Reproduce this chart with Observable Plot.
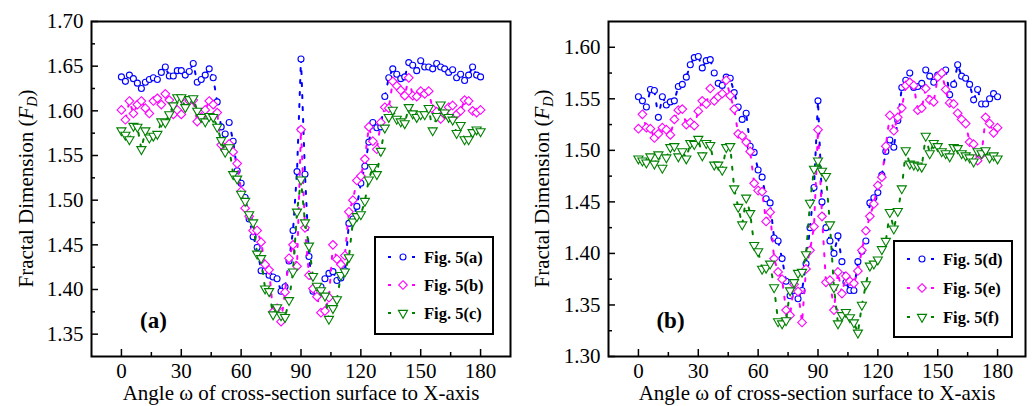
<!DOCTYPE html>
<html>
<head>
<meta charset="utf-8">
<script src="https://cdn.jsdelivr.net/npm/d3@7"></script>
<script src="https://cdn.jsdelivr.net/npm/@observablehq/plot@0.6"></script>
<style>
  html, body { margin: 0; padding: 0; background: #fff; }
  #chart { display: flex; width: 1033px; height: 406px; }
</style>
</head>
<body>
<div id="chart"></div>
<script>
// Cross-section angle ω (degrees)
const angles = [
  0, 2, 4, 6, 8, 10, 12, 14, 16, 18,
  20, 22, 24, 26, 28, 30, 32, 34, 36, 38,
  40, 42, 44, 46, 48, 50, 52, 54, 56, 58,
  60, 62, 64, 66, 68, 70, 72, 74, 76, 78,
  80, 82, 84, 86, 88, 90, 92, 94, 96, 98,
  100, 102, 104, 106, 108, 110, 112, 114, 116, 118,
  120, 122, 124, 126, 128, 130, 132, 134, 136, 138,
  140, 142, 144, 146, 148, 150, 152, 154, 156, 158,
  160, 162, 164, 166, 168, 170, 172, 174, 176, 178,
  180
];

// Panel (a): fractal dimension F_D
const fig5a = [
  1.638, 1.633, 1.640, 1.636, 1.631, 1.625, 1.632, 1.635, 1.637, 1.635,
  1.643, 1.649, 1.639, 1.639, 1.645, 1.645, 1.640, 1.644, 1.653, 1.632,
  1.635, 1.640, 1.647, 1.637, 1.610, 1.582, 1.574, 1.587, 1.566, 1.533,
  1.519, 1.503, 1.479, 1.459, 1.447, 1.421, 1.421, 1.416, 1.414, 1.412,
  1.398, 1.403, 1.432, 1.466, 1.532, 1.658, 1.529, 1.437, 1.398, 1.397,
  1.403, 1.412, 1.418, 1.420, 1.410, 1.413, 1.421, 1.474, 1.479, 1.493,
  1.519, 1.538, 1.565, 1.587, 1.581, 1.582, 1.616, 1.637, 1.647, 1.641,
  1.636, 1.638, 1.654, 1.651, 1.645, 1.656, 1.649, 1.649, 1.647, 1.653,
  1.649, 1.647, 1.643, 1.646, 1.637, 1.641, 1.634, 1.640, 1.649, 1.640,
  1.638
];
const fig5b = [
  1.601, 1.590, 1.611, 1.597, 1.607, 1.611, 1.603, 1.597, 1.611, 1.614,
  1.607, 1.619, 1.612, 1.596, 1.601, 1.596, 1.609, 1.611, 1.612, 1.588,
  1.593, 1.601, 1.611, 1.607, 1.598, 1.562, 1.556, 1.563, 1.554, 1.541,
  1.510, 1.491, 1.482, 1.466, 1.466, 1.453, 1.428, 1.422, 1.375, 1.379,
  1.364, 1.397, 1.435, 1.450, 1.426, 1.579, 1.469, 1.416, 1.401, 1.392,
  1.374, 1.376, 1.391, 1.450, 1.434, 1.428, 1.438, 1.487, 1.500, 1.522,
  1.527, 1.546, 1.582, 1.566, 1.557, 1.587, 1.604, 1.603, 1.633, 1.628,
  1.623, 1.617, 1.637, 1.617, 1.616, 1.622, 1.619, 1.622, 1.602, 1.599,
  1.591, 1.596, 1.604, 1.606, 1.596, 1.600, 1.612, 1.611, 1.600, 1.598,
  1.601
];
const fig5c = [
  1.578, 1.573, 1.568, 1.583, 1.582, 1.557, 1.578, 1.570, 1.572, 1.574,
  1.588, 1.587, 1.596, 1.606, 1.615, 1.615, 1.604, 1.613, 1.614, 1.600,
  1.593, 1.588, 1.594, 1.593, 1.582, 1.567, 1.554, 1.559, 1.529, 1.524,
  1.507, 1.499, 1.484, 1.475, 1.440, 1.435, 1.401, 1.398, 1.372, 1.380,
  1.371, 1.369, 1.388, 1.420, 1.487, 1.523, 1.475, 1.449, 1.415, 1.404,
  1.399, 1.393, 1.367, 1.379, 1.389, 1.416, 1.420, 1.436, 1.476, 1.482,
  1.484, 1.499, 1.523, 1.537, 1.529, 1.555, 1.581, 1.593, 1.601, 1.591,
  1.588, 1.586, 1.604, 1.597, 1.593, 1.596, 1.596, 1.603, 1.578, 1.594,
  1.607, 1.598, 1.593, 1.590, 1.575, 1.584, 1.568, 1.568, 1.576, 1.579,
  1.577
];

// Panel (b): fractal dimension F_D
const fig5d = [
  1.552, 1.548, 1.542, 1.559, 1.558, 1.532, 1.552, 1.544, 1.547, 1.548,
  1.562, 1.564, 1.571, 1.583, 1.590, 1.591, 1.580, 1.587, 1.588, 1.575,
  1.565, 1.563, 1.571, 1.570, 1.556, 1.542, 1.530, 1.536, 1.504, 1.498,
  1.481, 1.474, 1.453, 1.449, 1.415, 1.412, 1.395, 1.373, 1.359, 1.364,
  1.356, 1.364, 1.390, 1.425, 1.464, 1.548, 1.450, 1.425, 1.412, 1.400,
  1.417, 1.392, 1.372, 1.364, 1.364, 1.392, 1.402, 1.412, 1.449, 1.454,
  1.459, 1.476, 1.499, 1.510, 1.503, 1.529, 1.561, 1.568, 1.575, 1.561,
  1.562, 1.565, 1.578, 1.572, 1.566, 1.573, 1.575, 1.578, 1.554, 1.564,
  1.583, 1.572, 1.570, 1.564, 1.549, 1.559, 1.545, 1.545, 1.550, 1.555,
  1.552
];
const fig5e = [
  1.521, 1.535, 1.522, 1.521, 1.512, 1.516, 1.522, 1.520, 1.515, 1.530,
  1.539, 1.540, 1.525, 1.527, 1.524, 1.538, 1.548, 1.545, 1.560, 1.548,
  1.552, 1.555, 1.568, 1.553, 1.540, 1.516, 1.514, 1.508, 1.499, 1.468,
  1.461, 1.460, 1.431, 1.440, 1.395, 1.382, 1.375, 1.345, 1.340, 1.370,
  1.363, 1.333, 1.385, 1.403, 1.426, 1.520, 1.436, 1.372, 1.374, 1.345,
  1.382, 1.361, 1.378, 1.373, 1.371, 1.383, 1.403, 1.422, 1.436, 1.448,
  1.466, 1.474, 1.504, 1.534, 1.519, 1.532, 1.541, 1.563, 1.566, 1.563,
  1.539, 1.541, 1.560, 1.549, 1.547, 1.571, 1.575, 1.559, 1.546, 1.545,
  1.536, 1.530, 1.526, 1.508, 1.506, 1.490, 1.496, 1.532, 1.526, 1.517,
  1.522
];
const fig5f = [
  1.492, 1.490, 1.488, 1.494, 1.487, 1.496, 1.483, 1.493, 1.503, 1.504,
  1.494, 1.499, 1.492, 1.507, 1.506, 1.511, 1.495, 1.507, 1.505, 1.486,
  1.486, 1.481, 1.503, 1.504, 1.463, 1.445, 1.428, 1.454, 1.439, 1.408,
  1.402, 1.385, 1.386, 1.390, 1.367, 1.334, 1.332, 1.335, 1.364, 1.372,
  1.381, 1.382, 1.399, 1.449, 1.482, 1.490, 1.480, 1.475, 1.428, 1.367,
  1.332, 1.340, 1.343, 1.338, 1.333, 1.323, 1.350, 1.370, 1.388, 1.390,
  1.394, 1.404, 1.412, 1.440, 1.424, 1.441, 1.463, 1.500, 1.487, 1.486,
  1.485, 1.484, 1.514, 1.497, 1.507, 1.504, 1.499, 1.497, 1.494, 1.503,
  1.502, 1.497, 1.495, 1.493, 1.489, 1.499, 1.497, 1.500, 1.493, 1.495,
  1.492
];

// Axis ticks and labels
const xMajor = [0, 30, 60, 90, 120, 150, 180];
const xMinor = [15, 45, 75, 105, 135, 165];
const yMajorA = [1.35, 1.40, 1.45, 1.50, 1.55, 1.60, 1.65, 1.70];
const yMinorA = [1.375, 1.425, 1.475, 1.525, 1.575, 1.625, 1.675];
const yMajorB = [1.30, 1.35, 1.40, 1.45, 1.50, 1.55, 1.60];
const yMinorB = [1.325, 1.375, 1.425, 1.475, 1.525, 1.575];
const seriesNamesA = ["Fig. 5(a)", "Fig. 5(b)", "Fig. 5(c)"];
const seriesNamesB = ["Fig. 5(d)", "Fig. 5(e)", "Fig. 5(f)"];
const xLabel = "Angle ω of cross-section surface to X-axis";
const yLabelText = "Fractal Dimension (";

const FONT = "'Liberation Serif', 'Times New Roman', Times, serif";
const styles = [
  {color: "#0000ff", symbol: "circle", d3symbol: d3.symbolCircle, r: 3.0, rotate: 0},
  {color: "#ff00ff", symbol: "diamond2", d3symbol: d3.symbolDiamond2, r: 3.9, rotate: 0},
  {color: "#008000", symbol: "triangle", d3symbol: d3.symbolTriangle, r: 3.4, rotate: 180}
];
const DASH = "3,9";

function panel(cfg) {
  const {width, height = 406, marginLeft, marginRight, marginTop = 21, marginBottom = 50,
         xDomain, yDomain, yMajor, yMinor, values, names, tag, legend} = cfg;
  const innerW = width - marginLeft - marginRight;
  const innerH = height - marginTop - marginBottom;

  const marks = [];
  values.forEach((vals, i) => {
    const s = styles[i];
    const rows = angles.map((a, j) => ({angle: a, value: vals[j]}));
    marks.push(Plot.line(rows, {x: "angle", y: "value", stroke: s.color, strokeWidth: 2,
                                strokeDasharray: DASH}));
    marks.push(Plot.dot(rows, {x: "angle", y: "value", symbol: s.symbol, r: s.r, rotate: s.rotate,
                               stroke: s.color, fill: "white", strokeWidth: 1.1}));
  });

  // inward ticks on the bottom and left edges
  marks.push(Plot.tickX(xMajor, {x: d => d, insetTop: innerH - 7, strokeWidth: 1.5}));
  marks.push(Plot.tickX(xMinor, {x: d => d, insetTop: innerH - 4, strokeWidth: 1.5}));
  marks.push(Plot.tickY(yMajor, {y: d => d, insetRight: innerW - 7, strokeWidth: 1.5}));
  marks.push(Plot.tickY(yMinor, {y: d => d, insetRight: innerW - 4, strokeWidth: 1.5}));

  marks.push(Plot.axisX(xMajor, {tickSize: 0, tickPadding: 7, fontSize: 21, label: null}));
  marks.push(Plot.axisY(yMajor, {tickSize: 0, tickPadding: 8, fontSize: 21, label: null,
                                 tickFormat: d3.format(".2f")}));
  marks.push(Plot.text([xLabel], {frameAnchor: "bottom", dy: 37, lineAnchor: "middle",
                                  fontSize: 21, text: d => d}));
  marks.push(Plot.text([tag], {frameAnchor: "bottom-left", dx: 62, dy: -36, lineAnchor: "middle",
                               textAnchor: "middle", fontSize: 23, fontWeight: "bold", text: d => d}));
  marks.push(Plot.frame({strokeWidth: 2}));

  const chart = Plot.plot({
    width, height, marginLeft, marginRight, marginTop, marginBottom,
    style: {fontFamily: FONT, fontSize: "21px", color: "black", background: "white", overflow: "visible"},
    x: {domain: xDomain, axis: null},
    y: {domain: yDomain, axis: null},
    marks
  });

  const svg = d3.select(chart);

  // y-axis title with italic F and subscript D
  const yt = svg.append("text")
    .attr("transform", `translate(33,${marginTop + innerH / 2}) rotate(-90)`)
    .attr("text-anchor", "middle")
    .attr("font-family", FONT)
    .attr("font-size", 21)
    .attr("fill", "black");
  yt.append("tspan").text(yLabelText);
  yt.append("tspan").attr("font-style", "italic").text("F");
  yt.append("tspan").attr("font-style", "italic").attr("font-size", 14).attr("dy", 4).text("D");
  yt.append("tspan").attr("dy", -4).text(")");

  // legend box
  const lg = svg.append("g").attr("text-anchor", "start");
  lg.append("rect")
    .attr("x", legend.x).attr("y", legend.y).attr("width", legend.w).attr("height", legend.h)
    .attr("fill", "white").attr("stroke", "black").attr("stroke-width", 2);
  names.forEach((name, i) => {
    const s = styles[i];
    const cy = legend.rows[i];
    lg.append("line")
      .attr("x1", legend.lineX).attr("x2", legend.lineX + 28).attr("y1", cy).attr("y2", cy)
      .attr("stroke", s.color).attr("stroke-width", 2).attr("stroke-dasharray", DASH);
    lg.append("path")
      .attr("d", d3.symbol(s.d3symbol, Math.PI * s.r * s.r)())
      .attr("transform", `translate(${legend.lineX + 15},${cy}) rotate(${s.rotate})`)
      .attr("fill", "white").attr("stroke", s.color).attr("stroke-width", 1.1);
    lg.append("text")
      .attr("x", legend.textX).attr("y", cy + 6)
      .attr("text-anchor", "start")
      .attr("font-family", FONT).attr("font-size", 16.5).attr("font-weight", "bold")
      .attr("fill", "black")
      .text(name);
  });

  return chart;
}

const root = document.getElementById("chart");
root.appendChild(panel({
  width: 516, marginLeft: 91, marginRight: 6,
  xDomain: [-15, 195], yDomain: [1.325, 1.70],
  yMajor: yMajorA, yMinor: yMinorA,
  values: [fig5a, fig5b, fig5c], names: seriesNamesA, tag: "(a)",
  legend: {x: 375, y: 237, w: 118, h: 97, rows: [257, 285, 313], lineX: 388, textX: 424}
}));
root.appendChild(panel({
  width: 517, marginLeft: 92, marginRight: 8,
  xDomain: [-15, 194], yDomain: [1.30, 1.625],
  yMajor: yMajorB, yMinor: yMinorB,
  values: [fig5d, fig5e, fig5f], names: seriesNamesB, tag: "(b)",
  legend: {x: 378, y: 241, w: 118, h: 96, rows: [259, 288, 317], lineX: 391, textX: 427}
}));
</script>
</body>
</html>
